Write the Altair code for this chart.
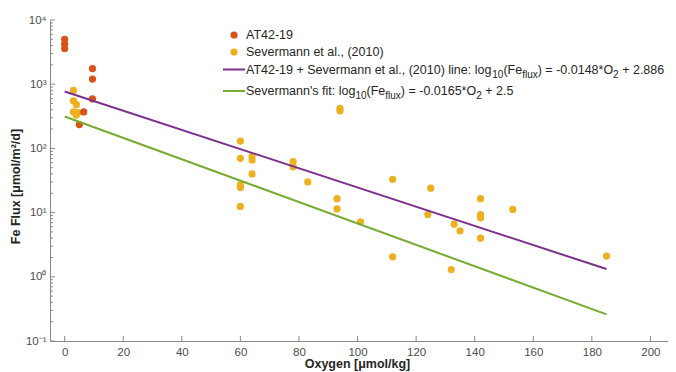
import altair as alt
import pandas as pd

# ---------------- data ----------------
at_o2 = [0, 0, 0, 9.5, 9.5, 9.5, 6.5, 5]
at_fe = [5000, 4200, 3600, 1750, 1200, 590, 370, 235]

sev_o2 = [3, 3, 4, 3, 4.5, 4,
          94, 94, 60, 60, 64, 64, 64, 60, 60, 60,
          78, 78, 83, 93, 93, 101, 112, 112, 125, 124,
          132, 133, 135, 142, 142, 142, 142, 153, 185]
sev_fe = [800, 550, 480, 370, 360, 330,
          420, 385, 130, 70, 75, 66, 40, 27, 24.5, 12.5,
          62, 52, 30, 16.5, 11.4, 7.2, 33, 2.05, 24, 9.3,
          1.3, 6.6, 5.2, 16.5, 9.3, 8.3, 4.0, 11.2, 2.1]

fit_o2 = [0, 185]
combined_fit = [770, 1.32]
severmann_fit = [314, 0.26]

series_names = ["AT42-19", "Severmann et al., (2010)"]
series_colors = ["#D95319", "#EDB120"]
line_colors = ["#7E2F8E", "#77AC30"]

x_ticks = [0, 20, 40, 60, 80, 100, 120, 140, 160, 180, 200]
y_decades = [0.1, 1, 10, 100, 1000, 10000]

# ---------------- layout ----------------
W, H = 618, 321
FONT = "Liberation Sans"
xscale = alt.Scale(domain=[-5, 206], nice=False, zero=False)
yscale = alt.Scale(type="log", domain=[0.1, 10000], nice=False)

label_expr = ("datum.value >= 9999 ? '10⁴' : datum.value >= 999 ? '10³' : "
              "datum.value >= 99 ? '10²' : datum.value >= 9.9 ? '10¹' : "
              "datum.value >= 0.99 ? '10⁰' : '10⁻¹'")
xaxis = alt.Axis(title="Oxygen [μmol/kg]", values=x_ticks, ticks=False, grid=False,
                 labelPadding=5, titleX=307, titleY=22, titleBaseline="middle",
                 titleAlign="center")
yaxis = alt.Axis(title="Fe Flux [μmol/m²/d]", values=y_decades, ticks=False, grid=False,
                 labelExpr=label_expr, labelPadding=4, titleX=-35, titleY=166,
                 titleBaseline="middle", titleAlign="center", titleAngle=-90)

pts = pd.DataFrame({
    "O2": sev_o2 + at_o2,
    "Fe": sev_fe + at_fe,
    "src": [series_names[1]] * len(sev_o2) + [series_names[0]] * len(at_o2),
})

points = alt.Chart(pts).mark_circle(size=52, opacity=1).encode(
    x=alt.X("O2:Q", scale=xscale, axis=xaxis),
    y=alt.Y("Fe:Q", scale=yscale, axis=yaxis),
    color=alt.Color("src:N", scale=alt.Scale(domain=series_names, range=series_colors),
                    legend=None),
)

line_layers = []
for vals, col in [(combined_fit, line_colors[0]), (severmann_fit, line_colors[1])]:
    df = pd.DataFrame({"O2": fit_o2, "Fe": vals})
    line_layers.append(alt.Chart(df).mark_line(strokeWidth=2, color=col).encode(
        x=alt.X("O2:Q", scale=xscale, axis=xaxis),
        y=alt.Y("Fe:Q", scale=yscale, axis=yaxis)))

# inward ticks
tick_col = "#888888"
xt = alt.Chart(pd.DataFrame({"O2": x_ticks})).mark_rule(color=tick_col, strokeWidth=1).encode(
    x=alt.X("O2:Q", scale=xscale, axis=xaxis), y=alt.value(H), y2=alt.value(H - 5))
yt = alt.Chart(pd.DataFrame({"Fe": y_decades})).mark_rule(color=tick_col, strokeWidth=1).encode(
    y=alt.Y("Fe:Q", scale=yscale, axis=yaxis), x=alt.value(0), x2=alt.value(5))
minor = [m * 10 ** k for k in range(-1, 4) for m in range(2, 10)]
ym = alt.Chart(pd.DataFrame({"Fe": minor})).mark_rule(color=tick_col, strokeWidth=1).encode(
    y=alt.Y("Fe:Q", scale=yscale, axis=yaxis), x=alt.value(0), x2=alt.value(3))

# ---------------- manual legend ----------------
ARIAL = {' ': 278, 'A': 667, 'T': 611, 'S': 667, 'F': 611, 'O': 778, '-': 333, '+': 584,
         '=': 584, '*': 389, '(': 333, ')': 333, '.': 278, ',': 278, ':': 278, "'": 191,
         'e': 556, 'v': 500, 'r': 333, 'm': 833, 'a': 556, 'n': 556, 't': 278, 'l': 222,
         'i': 222, 'o': 556, 'g': 556, 's': 500, 'f': 278, 'x': 500, 'u': 556}


def tw(s, size):
    return sum(ARIAL.get(c, 556) for c in s) * size / 1000.0


one = alt.Data(values=[{"a": 1}])
legend_layers = []
LX = 196      # text start (plot coords)
MAIN = 12.5
SUB = 10

for i, (name, col) in enumerate(zip(series_names, series_colors)):
    yy = [15, 32][i]
    legend_layers.append(alt.Chart(one).mark_circle(size=52, opacity=1, color=col).encode(
        x=alt.value(184), y=alt.value(yy)))
    legend_layers.append(alt.Chart(one).mark_text(
        align="left", baseline="middle", fontSize=MAIN, font=FONT, color="#262626").encode(
        x=alt.value(LX), y=alt.value(yy), text=alt.value(name)))

eq_entries = [
    ("AT42-19 + Severmann et al., (2010) line: ", "-0.0148", "2.886", 49.5, line_colors[0]),
    ("Severmann's fit: ", "-0.0165", "2.5", 71, line_colors[1]),
]
for prefix, slope, icpt, ly, col in eq_entries:
    legend_layers.append(alt.Chart(one).mark_rule(color=col, strokeWidth=2).encode(
        x=alt.value(173), x2=alt.value(195), y=alt.value(ly)))
    base = ly + 4.3
    pieces = [(prefix + "log", False), ("10", True), ("(Fe", False), ("flux", True),
              (") = " + slope + "*O", False), ("2", True), (" + " + icpt, False)]
    cx = LX
    for txt, sub in pieces:
        size = SUB if sub else MAIN
        lead = len(txt) - len(txt.lstrip(" "))
        cx += tw(" " * lead, size)
        body = txt.lstrip(" ")
        legend_layers.append(alt.Chart(one).mark_text(
            align="left", baseline="alphabetic", fontSize=size, font=FONT,
            color="#262626").encode(
            x=alt.value(cx), y=alt.value(base + (4 if sub else 0)),
            text=alt.value(body)))
        cx += tw(body, size)

chart = alt.layer(points, *line_layers, xt, yt, ym, *legend_layers).properties(
    width=W, height=H,
    autosize=alt.AutoSizeParams(type="none"),
    padding={"left": 42, "top": 12, "right": 0, "bottom": 30},
).configure_view(strokeWidth=0).configure_axis(
    domainColor="#888888", domainWidth=1, labelColor="#4d4d4d", labelFont=FONT,
    labelFontSize=11.5, titleFont=FONT, titleFontSize=12.5, titleFontWeight="bold",
    titleColor="#262626",
)

chart.save("out.html", embed_options={"renderer": "svg", "actions": False})
